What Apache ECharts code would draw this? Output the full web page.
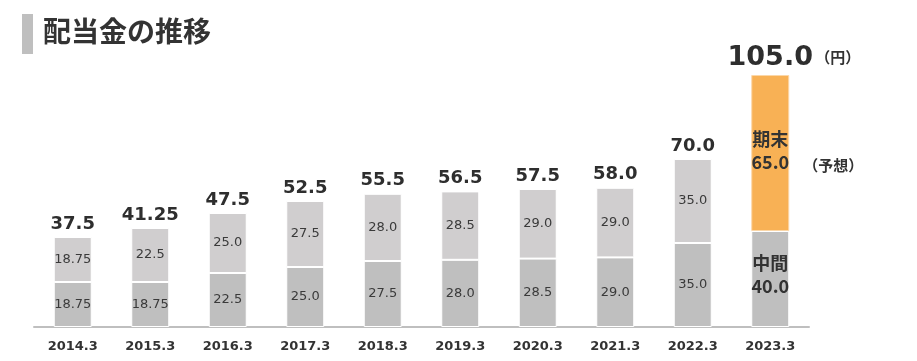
<!DOCTYPE html>
<html><head><meta charset="utf-8">
<script src="https://cdn.jsdelivr.net/npm/echarts@6/dist/echarts.min.js"></script>
<style>html,body{margin:0;padding:0;background:#fff}#c{width:917px;height:361px}</style>
</head><body><div id="c"></div>
<script>
const categories = ['2014.3','2015.3','2016.3','2017.3','2018.3','2019.3','2020.3','2021.3','2022.3','2023.3'];
const interim = [18.75,18.75,22.5,25.0,27.5,28.0,28.5,29.0,35.0,40.0];
const finalDiv = [18.75,22.5,25.0,27.5,28.0,28.5,29.0,29.0,35.0,65.0];
const totals = [37.5,41.25,47.5,52.5,55.5,56.5,57.5,58.0,70.0,105.0];

const NUM = "DejaVu Sans";
const JP = "Noto Sans CJK JP";
const TXT = '#3a3a3a';
const fmt = v => Number.isInteger(v*10) ? v.toFixed(1) : String(v);
const last = categories.length - 1;

const chart = echarts.init(document.getElementById('c'));
chart.setOption({
  animation:false,
  grid:{left:34,right:108,top:75,bottom:34},
  xAxis:{type:'category',data:categories,
    axisLine:{lineStyle:{color:'#bfbfbf',width:2}},axisTick:{show:false},
    axisLabel:{color:'#333',fontFamily:NUM,fontWeight:'bold',fontSize:13,margin:13}},
  yAxis:{type:'value',min:0,max:105,show:false,splitLine:{show:false}},
  series:[
    {type:'bar',stack:'d',barWidth:'49%',
     data:interim.map((v,i)=> i===last ? {value:v,label:{formatter:'中間\n'+fmt(v),color:'#333',fontFamily:JP,fontWeight:'bold',fontSize:18,lineHeight:23,offset:[0,-4]}} : v),
     itemStyle:{color:'#bfbfbf',borderColor:'#fff',borderWidth:1},
     label:{show:true,position:'inside',color:TXT,fontFamily:NUM,fontSize:13,formatter:p=>fmt(p.value)}},
    {type:'bar',stack:'d',barWidth:'49%',
     data:finalDiv.map((v,i)=> i===last ? {value:v,itemStyle:{color:'#f8b155',borderColor:'#fbd7a8'},label:{formatter:'期末\n'+fmt(v),color:'#333',fontFamily:JP,fontWeight:'bold',fontSize:18,lineHeight:23,offset:[0,-2]}} : v),
     itemStyle:{color:'#d0cecf',borderColor:'#fff',borderWidth:1},
     label:{show:true,position:'inside',color:TXT,fontFamily:NUM,fontSize:13,formatter:p=>fmt(p.value)}},
    {type:'scatter',symbolSize:0,itemStyle:{color:'#333',opacity:1},silent:true,
     data:totals.map((v,i)=> i===last ? {value:v,label:{fontSize:27,distance:4}} : v),
     label:{show:true,position:'top',distance:4,color:'#2e2e2e',fontFamily:NUM,fontWeight:'bold',fontSize:18,formatter:p=>fmt(p.value)}}
  ]
});

const pTop = chart.convertToPixel({xAxisIndex:0,yAxisIndex:0},[categories[last], totals[last]]);
const pMid = chart.convertToPixel({xAxisIndex:0,yAxisIndex:0},[categories[last], interim[last]+finalDiv[last]/2]);
chart.setOption({graphic:[
  {type:'rect',left:22,top:14,shape:{width:11,height:40},style:{fill:'#bfbfbf'}},
  {type:'text',left:43,top:17,style:{text:'配当金の推移',font:"bold 28px 'Noto Sans CJK JP'",fill:'#333'}},
  {type:'text',x:pTop[0]+45,y:pTop[1]-18,style:{text:'（円）',font:"bold 15px 'Noto Sans CJK JP'",fill:'#333',verticalAlign:'middle'}},
  {type:'text',x:pMid[0]+33,y:pMid[1]+12,style:{text:'（予想）',font:"bold 15px 'Noto Sans CJK JP'",fill:'#333',verticalAlign:'middle'}}
]});
</script></body></html>
